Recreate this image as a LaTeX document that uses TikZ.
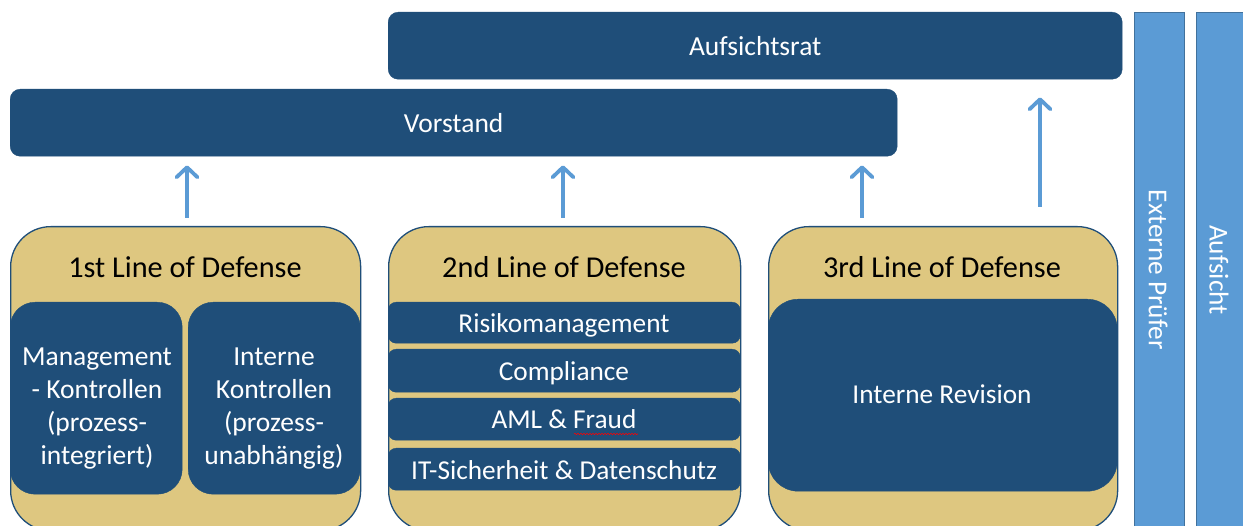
\documentclass[tikz,border=0pt]{standalone}
\usepackage{fontspec}
\setmainfont{Carlito}
\usetikzlibrary{arrows.meta,decorations.pathmorphing}
\definecolor{dblue}{RGB}{31,78,121}
\definecolor{tanf}{RGB}{222,199,128}
\definecolor{lblue}{RGB}{91,155,213}
\definecolor{lborder}{RGB}{65,113,156}
\tikzset{
  topbar/.style={fill=dblue, draw=dblue, rounded corners=10pt, inner sep=0pt, anchor=north west, text=white, font=\fontsize{27.5}{33}\selectfont},
  lod/.style={fill=tanf, draw=dblue, line width=1.3pt, rounded corners=40pt, inner sep=0pt, anchor=north west},
  innerbox/.style={fill=dblue, draw=dblue, inner sep=0pt, anchor=north west},
  barbox/.style={fill=dblue, draw=dblue, rounded corners=8pt, inner sep=0pt, anchor=north west, minimum width=352pt},
  bartext/.style={anchor=base, text=white, font=\fontsize{27.3}{33}\selectfont},
  heading/.style={anchor=base, font=\fontsize{30.3}{33}\selectfont, text=black},
  wtext/.style={text=white, align=center, font=\fontsize{27.5}{33.3}\selectfont},
  sidebar/.style={fill=lblue, draw=lborder, line width=0.8pt, inner sep=0pt, anchor=north west},
  sidetext/.style={text=white, rotate=-90, font=\fontsize{27.3}{33}\selectfont},
  arr/.style={draw=lblue, line width=3.8pt, -{Straight Barb[length=10pt,width=21pt,line cap=round,line join=round]}}
}
\begin{document}
\begin{tikzpicture}[x=1pt,y=-1pt]
\clip (0,0) rectangle (1243,526);
\fill[white] (0,0) rectangle (1243,526);
% top bars
\node[topbar, minimum width=734pt, minimum height=67pt] (ar) at (388,12) {Aufsichtsrat};
\node[topbar, minimum width=887pt, minimum height=67pt] (vs) at (10,89) {Vorstand};
% side bars
\node[sidebar, minimum width=50pt, minimum height=540pt] (ep) at (1134,12) {};
\node[sidebar, minimum width=70pt, minimum height=540pt] (au) at (1196,12) {};
\node[sidetext] (ept) at (1158,270) {Externe Prüfer};
\node[sidetext] (aut) at (1219,270) {Aufsicht};
% lines of defense
\node[lod, minimum width=350pt, minimum height=304pt] (l1) at (10,226) {};
\node[lod, minimum width=352pt, minimum height=304pt] (l2) at (388,226) {};
\node[lod, minimum width=349pt, minimum height=304pt] (l3) at (768,226) {};
\node[heading] (h1) at (185,278) {1st Line of Defense};
\node[heading] (h2) at (564,278) {2nd Line of Defense};
\node[heading] (h3) at (942,278) {3rd Line of Defense};
% first line inner
\node[innerbox, rounded corners=25pt, minimum width=172pt, minimum height=192pt] (m1) at (10,302) {};
\node[innerbox, rounded corners=25pt, minimum width=172pt, minimum height=192pt] (m2) at (188,302) {};
\node[wtext] (m1t) at (97,408.5) {Management\\- Kontrollen\\(prozess-\\integriert)};
\node[wtext] (m2t) at (274,408.5) {Interne\\Kontrollen\\(prozess-\\unabhängig)};
% second line bars
\node[barbox, minimum height=41pt] (b1) at (388,302) {};
\node[barbox, minimum height=43pt] (b2) at (388,349) {};
\node[barbox, minimum height=42pt] (b3) at (388,398) {};
\node[barbox, minimum height=42pt] (b4) at (388,448) {};
\node[bartext] (b1t) at (564,333) {Risikomanagement};
\node[bartext] (b2t) at (564,381) {Compliance};
\node[bartext] (b3t) at (564,429) {AML \& Fraud};
\node[bartext] (b4t) at (564,479) {IT-Sicherheit \& Datenschutz};
\draw[red, line width=0.6pt, decorate, decoration={snake, amplitude=0.7pt, segment length=3pt}] (574,434) -- (638,434);
% third line inner
\node[innerbox, rounded corners=30pt, minimum width=349pt, minimum height=192pt] (ir) at (768,299) {};
\node[bartext] (irt) at (942,403.5) {Interne Revision};
% arrows
\coordinate (x1) at (187,0);
\coordinate (x2) at (563,0);
\coordinate (x3) at (862,0);
\coordinate (x4) at (1040,0);
\draw[arr, shorten <=8pt, shorten >=9pt] (l1.north -| x1) -- (vs.south -| x1);
\draw[arr, shorten <=8pt, shorten >=9pt] (l2.north -| x2) -- (vs.south -| x2);
\draw[arr, shorten <=8pt, shorten >=9pt] (l3.north -| x3) -- (vs.south -| x3);
\draw[arr, shorten <=19pt, shorten >=18pt] (l3.north -| x4) -- (ar.south -| x4);
\end{tikzpicture}
\end{document}
